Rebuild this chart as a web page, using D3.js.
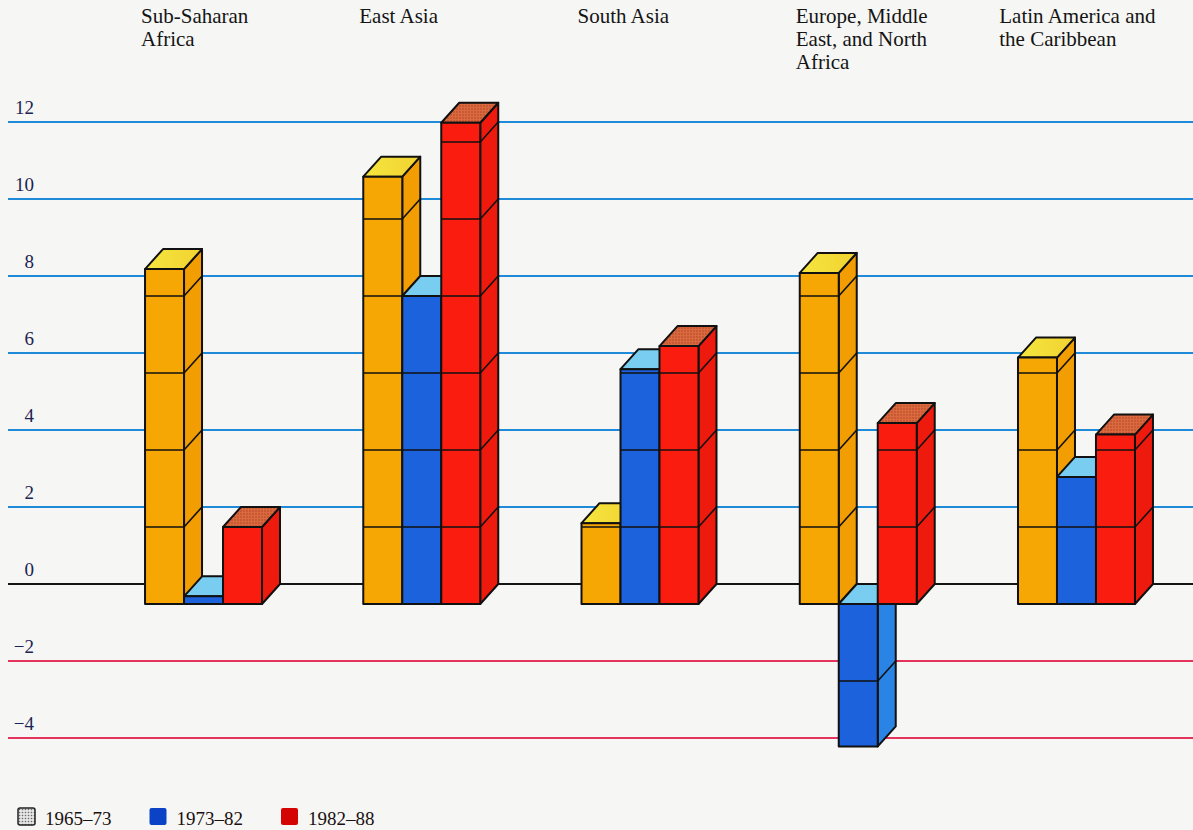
<!DOCTYPE html>
<html>
<head>
<meta charset="utf-8">
<script src="https://cdn.jsdelivr.net/npm/d3@7"></script>
<style>
  html, body { margin: 0; padding: 0; background: #f6f6f4; }
  svg { display: block; }
  text { font-family: "Liberation Serif", "Times New Roman", serif; }
</style>
</head>
<body>
<svg id="chart" width="1193" height="830"></svg>
<script>
// Regions (each label split into its printed lines)
const categories = [
  ["Sub-Saharan", "Africa"],
  ["East Asia"],
  ["South Asia"],
  ["Europe, Middle", "East, and North", "Africa"],
  ["Latin America and", "the Caribbean"]
];
const seriesNames = ["1965–73", "1973–82", "1982–88"];
const values1965 = [8.7, 11.1, 2.1, 8.6, 6.4];
const values1973 = [0.2, 8.0, 6.1, -3.7, 3.3];
const values1982 = [2.0, 12.5, 6.7, 4.7, 4.4];
const yTicks = [-4, -2, 0, 2, 4, 6, 8, 10, 12];
const yTickLabels = ["−4", "−2", "0", "2", "4", "6", "8", "10", "12"];

const seriesValues = [values1965, values1973, values1982];

const W = 1193, H = 830;
const svg = d3.select("#chart");

// Colour sets per series: front face, side face, top face
const palette = [
  { front: "#f7a704", side: "#f29d02", top: "url(#topYellow)", legend: "url(#stippleGrey)" },
  { front: "#1c62dc", side: "#2a84e6", top: "#78cdf0", legend: "#0b42c6" },
  { front: "#fb1c10", side: "#ee1a0e", top: "url(#stippleRed)", legend: "#d40404" }
];

// Patterns for the stippled top faces and legend swatch
const defs = svg.append("defs");
const pRed = defs.append("pattern").attr("id", "stippleRed")
  .attr("width", 3).attr("height", 3).attr("patternUnits", "userSpaceOnUse");
pRed.append("rect").attr("width", 3).attr("height", 3).attr("fill", "#da6a3c");
pRed.append("circle").attr("cx", 1).attr("cy", 1).attr("r", 0.7).attr("fill", "#a8382a");
const gY = defs.append("linearGradient").attr("id", "topYellow")
  .attr("x1", 0).attr("x2", 1).attr("y1", 0).attr("y2", 0);
gY.append("stop").attr("offset", 0).attr("stop-color", "#f5e640");
gY.append("stop").attr("offset", 1).attr("stop-color", "#f2d230");
const pGrey = defs.append("pattern").attr("id", "stippleGrey")
  .attr("width", 3).attr("height", 3).attr("patternUnits", "userSpaceOnUse");
pGrey.append("rect").attr("width", 3).attr("height", 3).attr("fill", "#e4e4e4");
pGrey.append("circle").attr("cx", 1.5).attr("cy", 1.5).attr("r", 0.8).attr("fill", "#6a6a6a");

// Scales
const y = d3.scaleLinear().domain([-4, 12]).range([738, 122]);
const x0 = d3.scaleBand().domain(d3.range(categories.length))
  .range([94.4, 1185.6]).paddingInner(0.464).paddingOuter(0.232);
const x1 = d3.scaleBand().domain(d3.range(seriesNames.length))
  .range([0, x0.bandwidth()]);

// Oblique depth of the bars
const DX = 18, DY = 20;

// Gridlines
const grid = svg.append("g");
grid.selectAll("line").data(yTicks).join("line")
  .attr("x1", 8).attr("x2", W)
  .attr("y1", d => y(d)).attr("y2", d => y(d))
  .attr("stroke", d => d > 0 ? "#1f8ad8" : d < 0 ? "#e4345c" : "#151515")
  .attr("stroke-width", 2);

// Tick labels
grid.selectAll("text").data(yTicks).join("text")
  .attr("x", 34).attr("y", d => y(d) - 8)
  .attr("text-anchor", "end")
  .attr("font-size", 19)
  .attr("fill", "#1b2452")
  .text((d, i) => yTickLabels[i]);

// Bars, drawn left to right so each front face hides its left neighbour's side
const bars = svg.append("g")
  .attr("stroke", "#111").attr("stroke-width", 2).attr("stroke-linejoin", "round");

categories.forEach((c, ci) => {
  seriesNames.forEach((s, si) => {
    const v = seriesValues[si][ci];
    const col = palette[si];
    const x = x0(ci) + x1(si);
    const w = x1.bandwidth();
    const yt = y(Math.max(v, 0)) + DY;
    const yb = y(Math.min(v, 0)) + DY;
    const g = bars.append("g");
    const pts = a => a.map(p => p.join(",")).join(" ");
    // side face
    g.append("polygon").attr("fill", col.side).attr("points", pts([
      [x + w, yt], [x + w + DX, yt - DY], [x + w + DX, yb - DY], [x + w, yb]
    ]));
    // top face
    g.append("polygon").attr("fill", col.top).attr("points", pts([
      [x, yt], [x + w, yt], [x + w + DX, yt - DY], [x + DX, yt - DY]
    ]));
    // front face
    g.append("rect").attr("fill", col.front)
      .attr("x", x).attr("y", yt).attr("width", w).attr("height", yb - yt);
    // block dividers every 2 units
    const lo = Math.min(v, 0), hi = Math.max(v, 0);
    const marks = yTicks.filter(t => t > lo && t < hi);
    marks.forEach(t => {
      g.append("line").attr("x1", x).attr("x2", x + w)
        .attr("y1", y(t) + DY).attr("y2", y(t) + DY).attr("stroke-width", 1.6);
      g.append("line").attr("x1", x + w).attr("x2", x + w + DX)
        .attr("y1", y(t) + DY).attr("y2", y(t)).attr("stroke-width", 1.6);
    });
  });
});

// Region labels above each group
const labels = svg.append("g");
categories.forEach((lines, ci) => {
  const t = labels.append("text")
    .attr("font-size", 21).attr("fill", "#141414");
  lines.forEach((ln, li) => {
    t.append("tspan").attr("x", 0).attr("y", 23 + li * 23).text(ln);
  });
  const bw = t.node().getBBox().width;
  const xs = Math.min(x0(ci) - 4, 1156 - bw);
  t.attr("transform", `translate(${xs},0)`);
});

// Legend
const legend = svg.append("g").attr("transform", "translate(18,808)");
let lx = 0;
seriesNames.forEach((s, si) => {
  const g = legend.append("g").attr("transform", `translate(${lx},0)`);
  g.append("rect").attr("width", 17).attr("height", 17).attr("rx", 2)
    .attr("fill", palette[si].legend)
    .attr("stroke", si === 0 ? "#222" : "none").attr("stroke-width", 1.5);
  const t = g.append("text").attr("x", 27).attr("y", 17)
    .attr("font-size", 19).attr("fill", "#1a1010").text(s);
  lx += 27 + t.node().getComputedTextLength() + 38;
});
</script>
</body>
</html>
